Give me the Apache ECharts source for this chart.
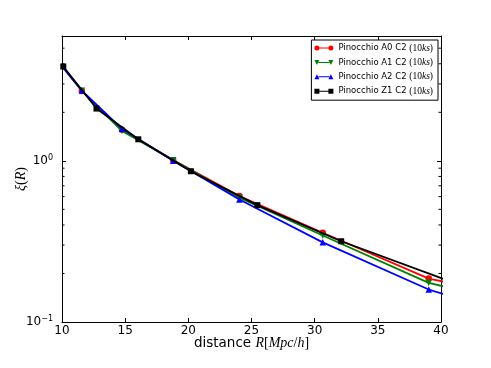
<!DOCTYPE html>
<html>
<head>
<meta charset="utf-8">
<script src="https://cdn.jsdelivr.net/npm/echarts@6/dist/echarts.min.js"></script>
<style>
  html, body { margin: 0; padding: 0; background: #fff; }
  #chart { width: 491px; height: 368px; }
</style>
</head>
<body>
<div id="chart"></div>
<script>
// distances of the bins (A runs share one binning, Z1 has its own)
const rA = [9.07, 11.57, 14.75, 18.8, 24.04, 30.64, 39.03, 49.7];
const rZ = [10.1, 12.73, 16.04, 20.2, 25.46, 32.1, 40.45];

const xiA0 = [4.78, 2.71, 1.56, 1.01, 0.604, 0.358, 0.186, 0.125];
const xiA1 = [4.78, 2.72, 1.53, 1.01, 0.59, 0.344, 0.175, 0.11];
const xiA2 = [4.75, 2.73, 1.58, 1.0, 0.575, 0.312, 0.159, 0.088];
const xiZ1 = [3.85, 2.11, 1.36, 0.862, 0.531, 0.317, 0.182];

const seriesNames = ['Pinocchio A0 C2', 'Pinocchio A1 C2', 'Pinocchio A2 C2', 'Pinocchio Z1 C2'];
const seriesColors = ['#ff0000', '#008000', '#0000ff', '#000000'];

// log axis minor ticks (matplotlib style 2..9 x 10^k)
const minorTicks = [0.2, 0.3, 0.4, 0.5, 0.6, 0.7, 0.8, 0.9, 2, 3, 4, 5];

const xMin = 10, xMax = 40, yMin = 0.1, yMax = 5.95;

// legend icons: marker - line - marker
const icons = [
  'path://M0,2.5 A2.5,2.5 0 1,1 5,2.5 A2.5,2.5 0 1,1 0,2.5 Z M14,2.5 A2.5,2.5 0 1,1 19,2.5 A2.5,2.5 0 1,1 14,2.5 Z M5,2 L14,2 L14,3 L5,3 Z',
  'path://M0,0 L5,0 L2.5,5 Z M14,0 L19,0 L16.5,5 Z M4,2 L15,2 L15,3 L4,3 Z',
  'path://M0,5 L2.5,0 L5,5 Z M14,5 L16.5,0 L19,5 Z M4,2 L15,2 L15,3 L4,3 Z',
  'path://M0,0 L5,0 L5,5 L0,5 Z M14,0 L19,0 L19,5 L14,5 Z M5,2 L14,2 L14,3 L5,3 Z'
];
const symbols = ['circle', 'triangle', 'triangle', 'rect'];
const symbolRotate = [0, 180, 0, 0];

const chart = echarts.init(document.getElementById('chart'));

function pairs(xs, ys) {
  return xs.map((x, i) => [x, ys[i]]);
}

function decadeLabel(v) {
  const e = Math.log10(v);
  const k = Math.round(e);
  if (Math.abs(e - k) > 1e-6) return '';
  return '{b|10}{s|' + String(k).replace('-', '\u2212') + '}';
}

const allData = [xiA0, xiA1, xiA2, xiZ1];
const allX = [rA, rA, rA, rZ];

const lineSeries = seriesNames.map((name, i) => ({
  name: name,
  type: 'line',
  data: pairs(allX[i], allData[i]),
  color: seriesColors[i],
  symbol: symbols[i],
  symbolRotate: symbolRotate[i],
  symbolSize: i === 3 ? 6 : 6.5,
  showAllSymbol: true,
  lineStyle: { width: 1.8, color: seriesColors[i] },
  itemStyle: { color: seriesColors[i], borderWidth: 0 },
  clip: true,
  z: 2 + i
}));

const option = {
  animation: false,
  backgroundColor: '#fff',
  grid: { left: 62, right: 50, top: 36, bottom: 46, outerBoundsMode: 'none' },
  legend: {
    orient: 'vertical',
    right: 53,
    top: 40,
    padding: [3, 5, 4, 3],
    itemWidth: 19,
    itemHeight: 5,
    itemGap: 4.4,
    backgroundColor: '#fff',
    borderColor: '#000',
    borderWidth: 1,
    itemStyle: { borderWidth: 0 },
    lineStyle: { width: 0 },
    data: seriesNames.map((n, i) => ({ name: n, icon: icons[i], itemStyle: { color: seriesColors[i], borderWidth: 0 } })),
    formatter: n => '{t|' + n + ' }{m|(10}{i|ks}{m|)}',
    textStyle: {
      rich: {
        t: { fontFamily: 'DejaVu Sans', fontSize: 8.5, color: '#000', lineHeight: 10 },
        m: { fontFamily: 'Liberation Serif', fontSize: 9.5, color: '#000', lineHeight: 10 },
        i: { fontFamily: 'Liberation Serif', fontStyle: 'italic', fontSize: 9.5, color: '#000', lineHeight: 10 }
      }
    }
  },
  xAxis: [
    {
      type: 'value',
      min: xMin,
      max: xMax,
      interval: 5,
      position: 'bottom',
      axisLine: { lineStyle: { color: '#000', width: 1 } },
      axisTick: { inside: true, length: 4, lineStyle: { color: '#000' } },
      splitLine: { show: false },
      axisLabel: { color: '#000', fontFamily: 'DejaVu Sans', fontSize: 12, margin: 3 },
      name: '{n|distance }{m|R}{u|[}{m|Mpc}{u|/}{m|h}{u|]}',
      nameLocation: 'middle',
      nameGap: 14,
      nameMoveOverlap: false,
      nameTextStyle: {
        rich: {
          n: { fontFamily: 'DejaVu Sans', fontSize: 13.5, color: '#000' },
          m: { fontFamily: 'Liberation Serif', fontStyle: 'italic', fontSize: 14, color: '#000' },
          u: { fontFamily: 'Liberation Serif', fontSize: 14, color: '#000' }
        }
      }
    },
    {
      type: 'value',
      min: xMin,
      max: xMax,
      interval: 5,
      position: 'top',
      axisLine: { lineStyle: { color: '#000', width: 1 } },
      axisTick: { inside: true, length: 4, lineStyle: { color: '#000' } },
      axisLabel: { show: false },
      splitLine: { show: false }
    }
  ],
  yAxis: [
    {
      type: 'log',
      logBase: 10,
      min: yMin,
      max: yMax,
      interval: 1,
      position: 'left',
      axisLine: { lineStyle: { color: '#000', width: 1 } },
      axisTick: { inside: true, length: 4, lineStyle: { color: '#000' } },
      splitLine: { show: false },
      axisLabel: {
        color: '#000',
        margin: 9,
        showMaxLabel: false,
        formatter: decadeLabel,
        rich: {
          b: { fontFamily: 'DejaVu Sans', fontSize: 12, color: '#000', lineHeight: 14 },
          s: { fontFamily: 'DejaVu Sans', fontSize: 8, color: '#000', lineHeight: 8, verticalAlign: 'top' }
        }
      },
      name: '{m|\u03be}{u|(}{m|R}{u|)}',
      nameLocation: 'middle',
      nameGap: 34,
      nameRotate: 90,
      nameMoveOverlap: false,
      nameTextStyle: {
        rich: {
          m: { fontFamily: 'Liberation Serif', fontStyle: 'italic', fontSize: 14, color: '#000' },
          u: { fontFamily: 'Liberation Serif', fontSize: 14, color: '#000' }
        }
      }
    },
    {
      type: 'log',
      logBase: 10,
      min: yMin,
      max: yMax,
      interval: 1,
      position: 'right',
      axisLine: { lineStyle: { color: '#000', width: 1 } },
      axisTick: { inside: true, length: 4, lineStyle: { color: '#000' } },
      axisLabel: { show: false },
      splitLine: { show: false }
    }
  ],
  series: lineSeries.concat([
    {
      type: 'custom',
      name: 'minor',
      silent: true,
      clip: false,
      z: 1,
      data: minorTicks.map(v => [xMin, v]),
      renderItem: function (params, api) {
        const v = api.value(1);
        const l = api.coord([xMin, v]);
        const r = api.coord([xMax, v]);
        return {
          type: 'group',
          children: [
            { type: 'line', shape: { x1: l[0], y1: l[1], x2: l[0] + 2.5, y2: l[1] }, style: { stroke: '#000', lineWidth: 1 } },
            { type: 'line', shape: { x1: r[0] - 2.5, y1: r[1], x2: r[0], y2: r[1] }, style: { stroke: '#000', lineWidth: 1 } }
          ]
        };
      }
    }
  ])
};

chart.setOption(option);
</script>
</body>
</html>
